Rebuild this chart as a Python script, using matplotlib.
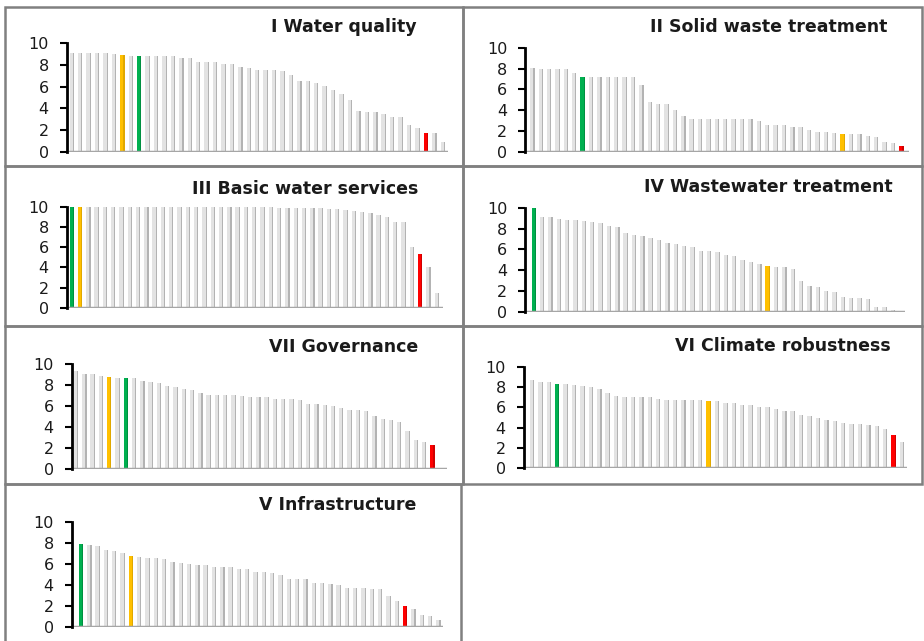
import matplotlib
matplotlib.use("Agg")
import matplotlib.pyplot as plt
from matplotlib.patches import Rectangle

W, H = 924, 641

# scores per panel (sorted)
water_quality = [9.1, 9.1, 9.1, 9.1, 9.1, 9.0, 8.9, 8.8, 8.8, 8.8, 8.8, 8.8, 8.8,
                 8.6, 8.6, 8.3, 8.3, 8.3, 8.05, 8.05, 7.85, 7.75, 7.5, 7.5, 7.5,
                 7.4, 7.1, 6.5, 6.5, 6.3, 6.1, 5.7, 5.3, 4.8, 3.8, 3.7, 3.7, 3.5,
                 3.2, 3.2, 2.5, 2.2, 1.7, 1.7, 0.85]
solid_waste = [8.1, 8.0, 8.0, 8.0, 8.0, 7.55, 7.2, 7.2, 7.2, 7.2, 7.2, 7.2, 7.2,
               6.4, 4.75, 4.6, 4.6, 4.0, 3.4, 3.15, 3.15, 3.15, 3.15, 3.15, 3.15,
               3.15, 3.15, 2.95, 2.6, 2.6, 2.6, 2.35, 2.35, 2.05, 1.85, 1.85,
               1.75, 1.7, 1.7, 1.7, 1.5, 1.4, 0.95, 0.85, 0.55]
basic_services = [10.0] * 21 + [9.95, 9.95, 9.95, 9.95, 9.9, 9.9, 9.9, 9.9, 9.85,
                                9.85, 9.8, 9.75, 9.7, 9.6, 9.5, 9.4, 9.2, 8.95,
                                8.5, 8.45, 6.0, 5.3, 4.0, 1.5]
wastewater = [10.0, 9.1, 9.1, 8.95, 8.85, 8.85, 8.7, 8.6, 8.5, 8.2, 8.1, 7.55,
              7.4, 7.3, 7.05, 6.85, 6.6, 6.5, 6.35, 6.2, 5.8, 5.8, 5.7, 5.5, 5.4,
              5.0, 4.75, 4.6, 4.35, 4.3, 4.3, 4.1, 3.0, 2.5, 2.35, 1.95, 1.85,
              1.4, 1.35, 1.3, 1.25, 0.45, 0.45, 0.2, 0.1]
governance = [9.4, 9.1, 9.1, 8.9, 8.8, 8.65, 8.65, 8.65, 8.4, 8.3, 8.2, 7.9,
              7.85, 7.65, 7.5, 7.25, 7.1, 7.1, 7.1, 7.1, 6.95, 6.85, 6.85, 6.85,
              6.7, 6.7, 6.7, 6.6, 6.25, 6.25, 6.15, 6.0, 5.85, 5.6, 5.6, 5.5,
              5.1, 4.8, 4.7, 4.5, 3.65, 2.8, 2.6, 2.3, 0.1]
climate = [8.7, 8.45, 8.45, 8.3, 8.3, 8.2, 8.1, 8.0, 7.8, 7.45, 7.15, 7.05, 7.0,
           7.0, 7.0, 6.85, 6.75, 6.75, 6.7, 6.7, 6.7, 6.6, 6.6, 6.45, 6.45,
           6.25, 6.2, 6.0, 6.0, 5.85, 5.65, 5.65, 5.2, 5.1, 4.95, 4.8, 4.7,
           4.45, 4.4, 4.4, 4.3, 4.15, 3.9, 3.3, 2.55]
infrastructure = [7.9, 7.85, 7.75, 7.35, 7.3, 7.05, 6.75, 6.65, 6.6, 6.55, 6.5,
                  6.25, 6.1, 6.0, 5.9, 5.9, 5.7, 5.7, 5.7, 5.5, 5.5, 5.3, 5.3,
                  5.15, 4.95, 4.6, 4.6, 4.6, 4.25, 4.2, 4.1, 4.0, 3.7, 3.7, 3.7,
                  3.6, 3.6, 2.95, 2.5, 2.05, 1.7, 1.15, 1.05, 0.65]

# highlighted bars (0-based index): green, orange, red
highlights = {
    "I Water quality": (8, 6, 42),
    "II Solid waste treatment": (6, 37, 44),
    "III Basic water services": (0, 1, 42),
    "IV Wastewater treatment": (0, 28, 44),
    "VII Governance": (6, 4, 43),
    "VI Climate robustness": (3, 21, 43),
    "V Infrastructure": (0, 6, 39),
}

# layout in pixels: box, axis x, first bar x, last bar x, floor end, y of 10, y of 0, title right, title y
panels = [
    ("I Water quality", water_quality,
     (5, 7, 463, 166), 66.7, 71.7, 442.7, 448.3, 43.3, 151.7, 417, 27),
    ("II Solid waste treatment", solid_waste,
     (463, 7, 922, 166), 525.3, 532.3, 901.3, 908.7, 48.0, 151.5, 887, 27),
    ("III Basic water services", basic_services,
     (5, 166, 463, 326), 66.7, 71.7, 436.7, 443.3, 206.7, 307.7, 418, 189),
    ("IV Wastewater treatment", wastewater,
     (463, 166, 922, 326), 525.3, 533.7, 901.3, 905.3, 207.7, 311.7, 893, 187),
    ("VII Governance", governance,
     (5, 326, 463, 484), 71.7, 76.0, 440.7, 446.7, 364.3, 469.0, 418, 347),
    ("VI Climate robustness", climate,
     (463, 326, 922, 484), 523.7, 532.0, 902.0, 907.0, 366.7, 468.3, 891, 346),
    ("V Infrastructure", infrastructure,
     (5, 484, 461, 645), 71.7, 81.0, 438.3, 443.3, 522.3, 627.0, 416, 505),
]

LIGHT = "#e3e3e3"
SHADE = "#b3b3b3"
GREEN = "#00b050"
ORANGE = "#ffc000"
RED = "#ff0000"

plt.rcParams["font.family"] = ["DejaVu Sans"]

fig = plt.figure(figsize=(W / 100, H / 100), dpi=100)
fig.patch.set_facecolor("white")

for (title, vals, box, ax_x, first, last, floor_end, y10, y0, t_right, t_y) in panels:
    bx0, by0, bx1, by1 = box
    fig.add_artist(Rectangle((bx0 / W, 1 - by1 / H), (bx1 - bx0) / W, (by1 - by0) / H,
                             transform=fig.transFigure, fill=False,
                             edgecolor="#808080", linewidth=1.8))

    n = len(vals)
    step = (last - first) / (n - 1)
    ax = fig.add_axes([ax_x / W, 1 - y0 / H, (floor_end - ax_x) / W, (y0 - y10) / H])
    xs = list(range(n))
    face = [LIGHT] * n
    side = [SHADE] * n
    g, o, r = highlights[title]
    face[g], face[o], face[r] = GREEN, ORANGE, RED
    side[g], side[o], side[r] = "#009040", "#e0a800", "#d00000"
    # front face and darker right side give the column a 3-D look
    ax.bar(xs, vals, width=0.52, color=face, linewidth=0, zorder=3)
    ax.bar([x + 0.2 for x in xs], vals, width=0.14, color=side, linewidth=0, zorder=4)
    ax.axhline(0, color="#a6a6a6", linewidth=2.5, zorder=5)

    ax.set_xlim(-(first - ax_x) / step, (n - 1) + (floor_end - last) / step)
    ax.set_ylim(0, 10)
    ax.set_yticks([0, 2, 4, 6, 8, 10])
    ax.set_xticks([])
    for s in ["top", "right", "bottom"]:
        ax.spines[s].set_visible(False)
    ax.spines["left"].set_linewidth(2)
    ax.spines["left"].set_color("black")
    ax.spines["left"].set_zorder(6)
    ax.tick_params(axis="y", direction="out", length=5, width=1.5,
                   labelsize=11.5, pad=8, colors="black", labelcolor="#1a1a1a")
    ax.patch.set_alpha(0)

    fig.text(t_right / W, 1 - t_y / H, title, ha="right", va="center",
             fontsize=12.5, fontweight="bold", color="#1a1a1a")

fig.savefig("out.png", dpi=100, facecolor="white")
